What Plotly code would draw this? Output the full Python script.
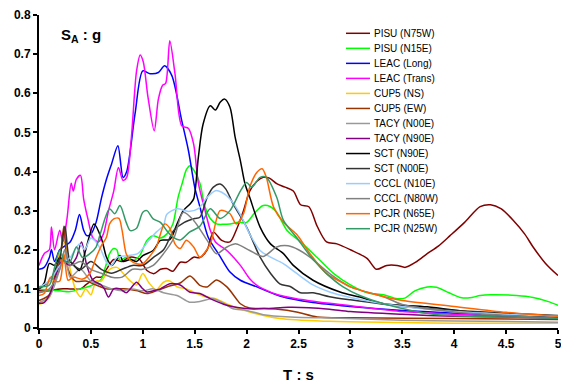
import plotly.graph_objects as go

# ---------------- data (T in s, SA in g) ----------------
pisu_n75w_T = [0, 0.1, 0.2, 0.3, 0.4, 0.45, 0.5, 0.55, 0.6, 0.65, 0.72, 0.8, 0.86, 0.91, 0.97, 1.04, 1.11, 1.17, 1.23, 1.29, 1.36, 1.42, 1.49, 1.55, 1.62, 1.68, 1.76, 1.84, 1.9, 1.97, 2.03, 2.1, 2.16, 2.22, 2.29, 2.37, 2.45, 2.52, 2.6, 2.68, 2.77, 2.87, 3.0, 3.16, 3.25, 3.35, 3.45, 3.53, 3.64, 3.74, 3.85, 3.96, 4.1, 4.25, 4.35, 4.45, 4.57, 4.68, 4.76, 4.88, 5.0]
pisu_n75w_SA = [0.095, 0.095, 0.1, 0.1, 0.1, 0.11, 0.12, 0.13, 0.13, 0.15, 0.175, 0.17, 0.18, 0.181, 0.175, 0.147, 0.139, 0.15, 0.152, 0.145, 0.168, 0.168, 0.181, 0.18, 0.2, 0.245, 0.224, 0.22, 0.25, 0.3, 0.35, 0.375, 0.385, 0.383, 0.369, 0.36, 0.35, 0.315, 0.31, 0.26, 0.22, 0.215, 0.2, 0.178, 0.15, 0.16, 0.16, 0.155, 0.17, 0.19, 0.21, 0.236, 0.27, 0.31, 0.315, 0.305, 0.275, 0.24, 0.207, 0.165, 0.134]

pisu_n15e_T = [0, 0.1, 0.2, 0.3, 0.4, 0.5, 0.6, 0.64, 0.68, 0.72, 0.75, 0.78, 0.84, 0.91, 0.97, 1.04, 1.1, 1.17, 1.23, 1.29, 1.34, 1.38, 1.42, 1.455, 1.5, 1.55, 1.6, 1.65, 1.71, 1.78, 1.84, 1.92, 2.0, 2.08, 2.16, 2.23, 2.29, 2.39, 2.52, 2.68, 2.84, 3.0, 3.16, 3.32, 3.45, 3.53, 3.62, 3.74, 3.83, 3.95, 4.06, 4.15, 4.25, 4.35, 4.6, 4.76, 4.9, 5.0]
pisu_n15e_SA = [0.1, 0.097, 0.095, 0.093, 0.1, 0.108, 0.125, 0.156, 0.19, 0.203, 0.2, 0.173, 0.181, 0.173, 0.185, 0.224, 0.236, 0.23, 0.24, 0.266, 0.334, 0.37, 0.405, 0.415, 0.4, 0.37, 0.309, 0.28, 0.266, 0.265, 0.266, 0.27, 0.27, 0.295, 0.313, 0.31, 0.296, 0.249, 0.22, 0.18, 0.139, 0.11, 0.09, 0.085, 0.075, 0.077, 0.095, 0.105, 0.104, 0.09, 0.078, 0.077, 0.083, 0.085, 0.083, 0.078, 0.068, 0.058]

leac_long_T = [0, 0.05, 0.1, 0.12, 0.15, 0.2, 0.25, 0.3, 0.35, 0.39, 0.43, 0.46, 0.5, 0.55, 0.6, 0.65, 0.7, 0.76, 0.81, 0.845, 0.925, 1.0, 1.07, 1.15, 1.21, 1.28, 1.375, 1.44, 1.5, 1.55, 1.63, 1.74, 1.84, 1.94, 2.1, 2.32, 2.64, 3.0, 3.5, 4.0, 4.5, 5.0]
leac_long_SA = [0.15, 0.155, 0.18, 0.2, 0.17, 0.2, 0.21, 0.22, 0.25, 0.29, 0.25, 0.236, 0.24, 0.27, 0.33, 0.38, 0.42, 0.466, 0.385, 0.4, 0.547, 0.657, 0.65, 0.653, 0.67, 0.645, 0.53, 0.453, 0.36, 0.31, 0.232, 0.185, 0.143, 0.122, 0.105, 0.082, 0.065, 0.055, 0.045, 0.038, 0.032, 0.028]

leac_trans_T = [0, 0.05, 0.1, 0.12, 0.15, 0.2, 0.23, 0.27, 0.31, 0.33, 0.36, 0.4, 0.43, 0.47, 0.52, 0.57, 0.62, 0.67, 0.72, 0.765, 0.81, 0.845, 0.89, 0.94, 0.975, 1.005, 1.05, 1.11, 1.15, 1.19, 1.22, 1.26, 1.31, 1.375, 1.44, 1.49, 1.535, 1.6, 1.65, 1.7, 1.81, 1.94, 2.03, 2.1, 2.16, 2.3, 2.48, 2.8, 3.09, 3.5, 4.0, 4.5, 5.0]
leac_trans_SA = [0.16, 0.19, 0.2, 0.258, 0.2, 0.25, 0.22, 0.28, 0.37, 0.35, 0.38, 0.39, 0.33, 0.28, 0.23, 0.22, 0.24, 0.3, 0.35, 0.41, 0.377, 0.385, 0.487, 0.657, 0.698, 0.68, 0.59, 0.504, 0.585, 0.62, 0.625, 0.734, 0.65, 0.517, 0.51, 0.47, 0.37, 0.3, 0.25, 0.22, 0.198, 0.16, 0.126, 0.109, 0.1, 0.085, 0.075, 0.063, 0.054, 0.042, 0.035, 0.03, 0.028]

cup5_ns_T = [0, 0.1, 0.17, 0.25, 0.3, 0.35, 0.4, 0.45, 0.5, 0.55, 0.6, 0.68, 0.75, 0.81, 0.88, 0.94, 1.0, 1.06, 1.13, 1.2, 1.26, 1.33, 1.42, 1.52, 1.6, 1.7, 1.84, 2.03, 2.32, 2.8, 3.5, 4.0, 5.0]
cup5_ns_SA = [0.06, 0.078, 0.17, 0.22, 0.15, 0.1, 0.08, 0.1, 0.085, 0.12, 0.12, 0.15, 0.155, 0.14, 0.12, 0.11, 0.139, 0.115, 0.098, 0.117, 0.12, 0.105, 0.1, 0.088, 0.08, 0.075, 0.058, 0.041, 0.024, 0.017, 0.014, 0.012, 0.012]

cup5_ew_T = [0, 0.1, 0.15, 0.2, 0.24, 0.28, 0.35, 0.45, 0.55, 0.65, 0.75, 0.85, 0.95, 1.04, 1.13, 1.23, 1.36, 1.455, 1.55, 1.62, 1.71, 1.81, 1.9, 1.94, 2.03, 2.13, 2.3, 2.48, 2.68, 3.0, 4.0, 5.0]
cup5_ew_SA = [0.07, 0.085, 0.13, 0.17, 0.26, 0.15, 0.12, 0.12, 0.11, 0.1, 0.1, 0.1, 0.095, 0.088, 0.095, 0.105, 0.115, 0.133, 0.109, 0.105, 0.123, 0.105, 0.075, 0.062, 0.051, 0.05, 0.048, 0.041, 0.028, 0.026, 0.024, 0.022]

tacy_n00e_T = [0, 0.1, 0.2, 0.25, 0.3, 0.4, 0.5, 0.6, 0.7, 0.8, 0.9, 1.0, 1.1, 1.2, 1.33, 1.45, 1.55, 1.68, 1.8, 1.87, 2.0, 2.16, 2.42, 2.9, 3.5, 4.0, 5.0]
tacy_n00e_SA = [0.065, 0.08, 0.15, 0.2, 0.13, 0.15, 0.12, 0.11, 0.1, 0.095, 0.1, 0.095, 0.1, 0.09, 0.083, 0.066, 0.068, 0.075, 0.06, 0.049, 0.045, 0.034, 0.028, 0.025, 0.02, 0.018, 0.015]

tacy_n90e_T = [0, 0.05, 0.11, 0.17, 0.22, 0.3, 0.36, 0.41, 0.46, 0.52, 0.6, 0.63, 0.67, 0.72, 0.78, 0.84, 0.88, 0.94, 0.99, 1.04, 1.1, 1.17, 1.26, 1.36, 1.45, 1.55, 1.65, 1.81, 2.03, 2.2, 2.4, 2.6, 2.8, 3.0, 3.5, 4.0, 4.5, 5.0]
tacy_n90e_SA = [0.063, 0.065, 0.09, 0.14, 0.17, 0.16, 0.18, 0.22, 0.16, 0.122, 0.11, 0.1, 0.079, 0.1, 0.1, 0.09, 0.1, 0.117, 0.103, 0.092, 0.095, 0.1, 0.113, 0.11, 0.092, 0.088, 0.075, 0.058, 0.049, 0.05, 0.053, 0.052, 0.048, 0.042, 0.035, 0.03, 0.028, 0.025]

sct_n90e_T = [0, 0.05, 0.1, 0.15, 0.2, 0.25, 0.3, 0.39, 0.45, 0.53, 0.6, 0.65, 0.7, 0.78, 0.81, 0.88, 0.94, 1.0, 1.1, 1.17, 1.26, 1.33, 1.39, 1.455, 1.49, 1.535, 1.58, 1.65, 1.70, 1.745, 1.79, 1.84, 1.89, 1.94, 1.985, 2.03, 2.13, 2.23, 2.355, 2.45, 2.64, 2.9, 3.09, 3.32, 3.74, 4.28, 5.0]
sct_n90e_SA = [0.1, 0.115, 0.165, 0.16, 0.18, 0.17, 0.17, 0.147, 0.2, 0.266, 0.23, 0.181, 0.16, 0.185, 0.17, 0.175, 0.17, 0.185, 0.198, 0.224, 0.226, 0.266, 0.3, 0.317, 0.33, 0.436, 0.52, 0.568, 0.557, 0.577, 0.585, 0.564, 0.487, 0.428, 0.368, 0.334, 0.258, 0.215, 0.19, 0.16, 0.122, 0.092, 0.079, 0.062, 0.054, 0.037, 0.027]

sct_n00e_T = [0, 0.1, 0.2, 0.25, 0.3, 0.4, 0.5, 0.6, 0.7, 0.8, 0.9, 1.0, 1.1, 1.2, 1.3, 1.4, 1.5, 1.55, 1.62, 1.68, 1.745, 1.8, 1.87, 2.0, 2.13, 2.23, 2.32, 2.42, 2.52, 2.64, 2.8, 3.0, 3.5, 4.0, 4.5, 5.0]
sct_n00e_SA = [0.1, 0.12, 0.18, 0.26, 0.17, 0.15, 0.17, 0.15, 0.14, 0.15, 0.16, 0.16, 0.18, 0.2, 0.25, 0.27, 0.28, 0.283, 0.334, 0.36, 0.368, 0.355, 0.317, 0.258, 0.181, 0.14, 0.113, 0.106, 0.09, 0.09, 0.08, 0.072, 0.055, 0.045, 0.038, 0.032]

cccl_n10e_T = [0, 0.1, 0.2, 0.3, 0.39, 0.44, 0.5, 0.55, 0.6, 0.66, 0.7, 0.75, 0.85, 0.95, 1.06, 1.13, 1.2, 1.23, 1.33, 1.44, 1.535, 1.62, 1.70, 1.76, 1.84, 1.94, 2.03, 2.13, 2.23, 2.35, 2.48, 2.64, 2.8, 3.0, 3.5, 4.0, 4.5, 5.0]
cccl_n10e_SA = [0.105, 0.12, 0.16, 0.18, 0.215, 0.2, 0.23, 0.22, 0.198, 0.164, 0.16, 0.18, 0.185, 0.19, 0.224, 0.245, 0.262, 0.29, 0.305, 0.298, 0.305, 0.334, 0.351, 0.347, 0.33, 0.29, 0.24, 0.198, 0.181, 0.165, 0.14, 0.11, 0.092, 0.078, 0.055, 0.042, 0.035, 0.03]

cccl_n80w_T = [0, 0.1, 0.2, 0.25, 0.3, 0.4, 0.5, 0.6, 0.7, 0.8, 0.9, 1.0, 1.1, 1.2, 1.3, 1.39, 1.49, 1.62, 1.71, 1.81, 1.9, 2.03, 2.16, 2.29, 2.4, 2.5, 2.61, 2.8, 3.0, 3.32, 3.5, 4.0, 4.5, 5.0]
cccl_n80w_SA = [0.09, 0.1, 0.15, 0.2, 0.16, 0.17, 0.15, 0.14, 0.13, 0.13, 0.15, 0.15, 0.16, 0.19, 0.23, 0.296, 0.275, 0.224, 0.19, 0.207, 0.215, 0.198, 0.183, 0.207, 0.21, 0.2, 0.181, 0.139, 0.105, 0.08, 0.06, 0.041, 0.032, 0.025]

pcjr_n65e_T = [0, 0.05, 0.11, 0.15, 0.2, 0.24, 0.28, 0.33, 0.42, 0.49, 0.55, 0.6, 0.65, 0.68, 0.72, 0.77, 0.8, 0.84, 0.88, 0.94, 1.0, 1.06, 1.13, 1.21, 1.26, 1.31, 1.36, 1.42, 1.49, 1.55, 1.65, 1.745, 1.84, 1.9, 1.97, 2.03, 2.1, 2.15, 2.19, 2.26, 2.355, 2.48, 2.61, 2.77, 2.93, 3.0, 3.25, 3.5, 4.0, 4.5, 5.0]
pcjr_n65e_SA = [0.083, 0.088, 0.13, 0.12, 0.12, 0.19, 0.122, 0.13, 0.125, 0.14, 0.18, 0.21, 0.232, 0.266, 0.279, 0.28, 0.25, 0.19, 0.173, 0.164, 0.164, 0.181, 0.207, 0.266, 0.255, 0.215, 0.203, 0.224, 0.207, 0.181, 0.215, 0.3, 0.292, 0.266, 0.292, 0.36, 0.398, 0.407, 0.385, 0.309, 0.27, 0.24, 0.19, 0.139, 0.115, 0.105, 0.085, 0.07, 0.055, 0.04, 0.03]

pcjr_n25w_T = [0, 0.1, 0.15, 0.2, 0.25, 0.3, 0.36, 0.42, 0.49, 0.55, 0.59, 0.64, 0.68, 0.73, 0.78, 0.84, 0.88, 0.94, 1.0, 1.04, 1.1, 1.17, 1.23, 1.29, 1.36, 1.45, 1.55, 1.65, 1.745, 1.84, 1.94, 2.0, 2.05, 2.13, 2.19, 2.29, 2.355, 2.48, 2.61, 2.77, 2.93, 3.09, 3.32, 3.8, 4.5, 5.0]
pcjr_n25w_SA = [0.105, 0.11, 0.155, 0.198, 0.17, 0.17, 0.207, 0.18, 0.19, 0.207, 0.24, 0.283, 0.305, 0.292, 0.313, 0.27, 0.249, 0.255, 0.296, 0.3, 0.279, 0.27, 0.249, 0.232, 0.225, 0.245, 0.26, 0.305, 0.28, 0.3, 0.35, 0.372, 0.36, 0.385, 0.385, 0.334, 0.275, 0.232, 0.185, 0.139, 0.105, 0.083, 0.062, 0.035, 0.028, 0.025]

series_names = ["PISU (N75W)", "PISU (N15E)", "LEAC (Long)", "LEAC (Trans)", "CUP5 (NS)",
                "CUP5 (EW)", "TACY (N00E)", "TACY (N90E)", "SCT (N90E)", "SCT (N00E)",
                "CCCL (N10E)", "CCCL (N80W)", "PCJR (N65E)", "PCJR (N25W)"]
series_T = [pisu_n75w_T, pisu_n15e_T, leac_long_T, leac_trans_T, cup5_ns_T, cup5_ew_T,
            tacy_n00e_T, tacy_n90e_T, sct_n90e_T, sct_n00e_T, cccl_n10e_T, cccl_n80w_T,
            pcjr_n65e_T, pcjr_n25w_T]
series_SA = [pisu_n75w_SA, pisu_n15e_SA, leac_long_SA, leac_trans_SA, cup5_ns_SA, cup5_ew_SA,
             tacy_n00e_SA, tacy_n90e_SA, sct_n90e_SA, sct_n00e_SA, cccl_n10e_SA, cccl_n80w_SA,
             pcjr_n65e_SA, pcjr_n25w_SA]

# ---------------- styles ----------------
colors = ["#800000", "#00ff00", "#0000ff", "#ff00ff", "#ffcc00", "#993300", "#999999",
          "#800080", "#000000", "#333333", "#99ccff", "#808080", "#ff6600", "#339966"]

W, H = 561, 384
ML, MR, MT, MB = 39, 3, 15, 56
PW, PH = W - ML - MR, H - MT - MB


def px_x(px):
    return (px - ML) / PW


def px_y(py):
    return (H - MB - py) / PH


fig = go.Figure()
for name, col, t, sa in zip(series_names, colors, series_T, series_SA):
    fig.add_trace(go.Scatter(x=t, y=sa, mode="lines", name=name, showlegend=False,
                             line=dict(color=col, width=1.5, shape="spline", smoothing=0.8)))

# legend drawn as a compact column (matching reference spacing)
shapes = []
annotations = []
for i, (name, col) in enumerate(zip(series_names, colors)):
    yy = px_y(33.3 + 15.03 * i)
    shapes.append(dict(type="line", xref="paper", yref="paper", x0=px_x(346), x1=px_x(370),
                       y0=yy, y1=yy, line=dict(color=col, width=1.5)))
    annotations.append(dict(xref="paper", yref="paper", x=px_x(372), y=yy, text=name,
                            showarrow=False, xanchor="left", yanchor="middle",
                            font=dict(family="Arial, Liberation Sans", size=10, color="#000")))

annotations.append(dict(xref="paper", yref="paper", x=px_x(59), y=px_y(35),
                        text="S<sub>A</sub> : g", showarrow=False, xanchor="left", yanchor="middle",
                        font=dict(family="Arial, Liberation Sans", size=15, color="#000", weight="bold")))

axis_font = dict(family="Arial, Liberation Sans", size=12, color="#000", weight="bold")
fig.update_layout(
    width=W, height=H,
    margin=dict(l=ML, r=MR, t=MT, b=MB, autoexpand=False),
    paper_bgcolor="white", plot_bgcolor="white",
    showlegend=False,
    shapes=shapes, annotations=annotations,
    xaxis=dict(range=[0, 5], dtick=0.5, tick0=0, showgrid=False, zeroline=False,
               showline=True, linecolor="#000", linewidth=2, ticks="outside", ticklen=4,
               tickwidth=1.5, tickcolor="#000", tickfont=axis_font, ticklabeloverflow="allow",
               title=dict(text="T : s", standoff=19,
                          font=dict(family="Arial, Liberation Sans", size=15, color="#000", weight="bold"))),
    yaxis=dict(range=[0, 0.8], dtick=0.1, tick0=0, showgrid=False, zeroline=False,
               showline=True, linecolor="#000", linewidth=2, ticks="outside", ticklen=4,
               tickwidth=1.5, tickcolor="#000", tickfont=axis_font, ticklabeloverflow="allow"),
)

fig.write_html("out.html")
